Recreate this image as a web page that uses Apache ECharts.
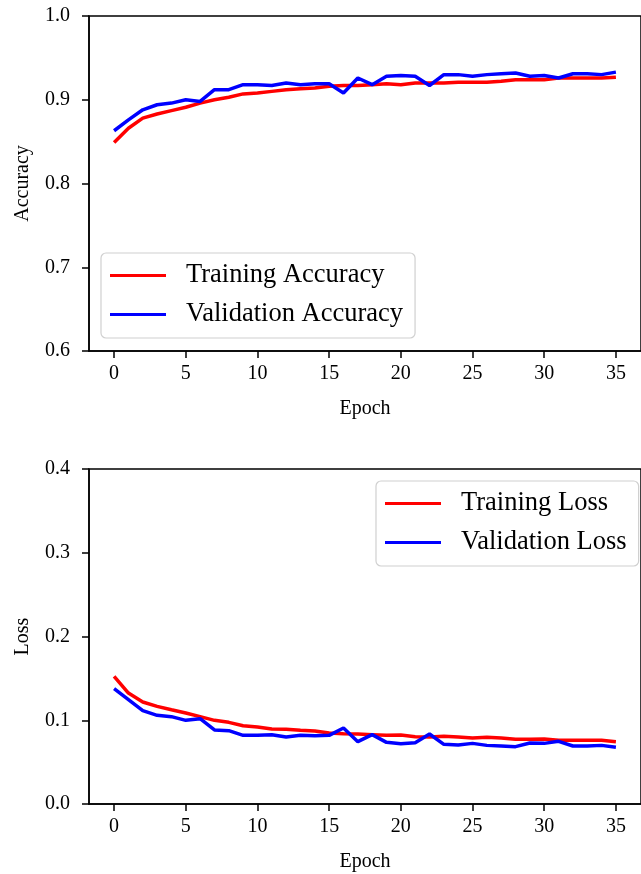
<!DOCTYPE html>
<html>
<head>
<meta charset="utf-8">
<script src="https://cdn.jsdelivr.net/npm/echarts@6/dist/echarts.min.js"></script>
<style>
html,body{margin:0;padding:0;background:#fff;}
#c{width:641px;height:874px;}
</style>
</head>
<body>
<div id="c"></div>
<script>
const epochs = Array.from({length: 36}, (_, i) => i);
const trainAcc = [0.849,0.866,0.878,0.883,0.887,0.891,0.896,0.900,0.903,0.907,0.908,0.910,0.912,0.913,0.914,0.916,0.917,0.917,0.918,0.919,0.918,0.920,0.920,0.920,0.921,0.921,0.921,0.922,0.924,0.924,0.924,0.926,0.926,0.926,0.926,0.927];
const valAcc = [0.863,0.876,0.888,0.894,0.896,0.900,0.898,0.912,0.912,0.918,0.918,0.917,0.920,0.918,0.919,0.919,0.908,0.926,0.918,0.928,0.929,0.928,0.917,0.930,0.930,0.928,0.930,0.931,0.932,0.928,0.929,0.926,0.931,0.931,0.930,0.933];
const trainLoss = [0.1525,0.1325,0.1218,0.1166,0.1126,0.1087,0.1043,0.0999,0.0975,0.0935,0.0919,0.0896,0.0892,0.0880,0.0872,0.0848,0.0840,0.0836,0.0828,0.0820,0.0824,0.0804,0.0800,0.0808,0.0800,0.0788,0.0796,0.0788,0.0772,0.0772,0.0776,0.0760,0.0760,0.0760,0.0760,0.0744];
const valLoss = [0.1377,0.1246,0.1114,0.1059,0.1043,0.0999,0.1019,0.0884,0.0876,0.0820,0.0820,0.0828,0.0800,0.0820,0.0816,0.0820,0.0907,0.0744,0.0828,0.0736,0.0720,0.0732,0.0836,0.0712,0.0704,0.0724,0.0700,0.0693,0.0685,0.0728,0.0724,0.0748,0.0693,0.0693,0.0700,0.0677];
const xTicks = [0,5,10,15,20,25,30,35];
const accTicks = [0.6,0.7,0.8,0.9,1.0];
const lossTicks = [0.0,0.1,0.2,0.3,0.4];
const seriesNames = ['Training Accuracy','Validation Accuracy','Training Loss','Validation Loss'];

const FONT = '"Liberation Serif", "DejaVu Serif", serif';
const chart = echarts.init(document.getElementById('c'), null, {renderer: 'canvas'});
const pair = (ys) => ys.map((v, i) => [epochs[i], v]);

function xAxisCfg(gi) {
  return {
    type: 'value', gridIndex: gi, min: -1.75, max: 36.75,
    name: 'Epoch', nameLocation: 'middle', nameGap: 48,
    nameTextStyle: {fontFamily: FONT, fontSize: 20, color: '#000'},
    axisLine: {show: true, onZero: false, lineStyle: {color: '#000', width: 1.5}},
    axisTick: {show: true, length: 7, inside: false, customValues: xTicks, lineStyle: {color: '#000', width: 1.5}},
    axisLabel: {customValues: xTicks, margin: 13, fontFamily: FONT, fontSize: 20, color: '#000'},
    splitLine: {show: false}
  };
}
function yAxisCfg(gi, name, ticks) {
  return {
    type: 'value', gridIndex: gi, min: ticks[0], max: ticks[ticks.length - 1],
    name: name, nameLocation: 'middle', nameGap: 56, nameRotate: 90,
    nameTextStyle: {fontFamily: FONT, fontSize: 20, color: '#000'},
    axisLine: {show: true, onZero: false, lineStyle: {color: '#000', width: 1.5}},
    axisTick: {show: true, length: 7, customValues: ticks, lineStyle: {color: '#000', width: 1.5}},
    axisLabel: {customValues: ticks, margin: 19, fontFamily: FONT, fontSize: 20, color: '#000',
      formatter: (v) => Number(v).toFixed(1)},
    splitLine: {show: false}
  };
}
function legendCfg(names, left, top) {
  return {
    data: names, orient: 'vertical', left: left, top: top,
    icon: 'rect', itemWidth: 56, itemHeight: 3, itemGap: 12,
    padding: [9, 12, 10, 9],
    backgroundColor: '#fff', borderColor: '#d0d0d0', borderWidth: 1.2, borderRadius: 5,
    textStyle: {fontFamily: FONT, fontSize: 26.5, color: '#000', padding: [0, 0, 0, 15]}
  };
}
function line(name, data, color, xi) {
  return {
    name: name, type: 'line', xAxisIndex: xi, yAxisIndex: xi, data: pair(data),
    showSymbol: false, symbol: 'none', lineStyle: {color: color, width: 3.5}, itemStyle: {color: color},
    animation: false
  };
}

chart.setOption({
  animation: false,
  grid: [
    {left: 89, top: 16, width: 561, height: 335, show: true, borderColor: '#000', borderWidth: 1.5, backgroundColor: 'transparent'},
    {left: 89, top: 469, width: 561, height: 335, show: true, borderColor: '#000', borderWidth: 1.5, backgroundColor: 'transparent'}
  ],
  xAxis: [xAxisCfg(0), xAxisCfg(1)],
  yAxis: [yAxisCfg(0, 'Accuracy', accTicks), yAxisCfg(1, 'Loss', lossTicks)],
  legend: [legendCfg([seriesNames[0], seriesNames[1]], 101, 253), legendCfg([seriesNames[2], seriesNames[3]], 376, 481)],
  series: [
    line(seriesNames[0], trainAcc, '#ff0000', 0),
    line(seriesNames[1], valAcc, '#0000ff', 0),
    line(seriesNames[2], trainLoss, '#ff0000', 1),
    line(seriesNames[3], valLoss, '#0000ff', 1)
  ]
});
</script>
</body>
</html>
